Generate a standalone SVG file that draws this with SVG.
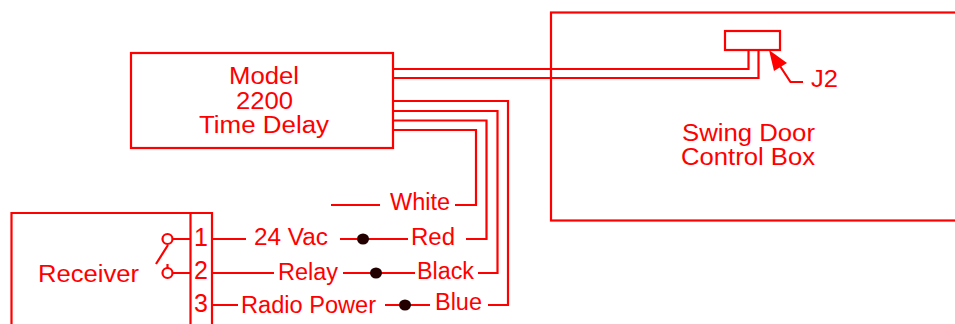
<svg xmlns="http://www.w3.org/2000/svg" width="955" height="324" viewBox="0 0 955 324">
<style>
.l{fill:none;stroke:#f00;stroke-width:2.2}
.t{fill:#f00;font-family:"Liberation Sans",Arial,sans-serif;font-size:23px}
.m{text-anchor:middle}
.d{font-size:25px}
</style>
<rect width="955" height="324" fill="#fff"/>
<g id="connectors">
<path class="l" d="M393 69H748.500V50M393 78H758.500V50"/>
<path class="l" d="M393 130H476V205H455M331 205H380"/>
<path class="l" d="M393 120.500H486.500V239H466M340 239H408M212 239H246"/>
<path class="l" d="M393 111H497.500V273H478M343 273H415M212 273H274"/>
<path class="l" d="M393 101H508V305H488M385 305H430M212 305H238"/>
<path class="l" d="M173 239H190M173 273H190M167.500 264V268M168 245L156 264"/>
<path class="l" d="M803 82H790.500L776 60"/>
<polygon points="769,50 787,63 774,71" fill="#f00"/>
<ellipse cx="363" cy="239" rx="6" ry="5.500" fill="#200"/>
<ellipse cx="376" cy="273" rx="6" ry="5.500" fill="#200"/>
<ellipse cx="405" cy="305" rx="6" ry="5.500" fill="#200"/>
</g>
<g id="time-delay">
<rect class="l" x="131" y="53" width="262" height="95"/>
<text class="t" x="229" y="84" textLength="70" lengthAdjust="spacingAndGlyphs">Model</text>
<text class="t" x="236" y="109" textLength="57" lengthAdjust="spacingAndGlyphs">2200</text>
<text class="t" x="199" y="133" textLength="130" lengthAdjust="spacingAndGlyphs">Time Delay</text>
</g>
<g id="control-box">
<rect class="l" x="551" y="12.500" width="420" height="208"/>
<text class="t" x="682" y="141" textLength="133" lengthAdjust="spacingAndGlyphs">Swing Door</text>
<text class="t" x="681" y="165" textLength="134" lengthAdjust="spacingAndGlyphs">Control Box</text>
</g>
<g id="j2">
<rect class="l" x="725" y="31" width="55" height="19"/>
<text class="t" x="811" y="87" textLength="27" lengthAdjust="spacingAndGlyphs">J2</text>
</g>
<g id="receiver">
<path class="l" d="M11.500 324V213H212V324M190.500 213V324"/>
<circle class="l" cx="167.500" cy="239" r="5"/>
<circle class="l" cx="167.500" cy="273" r="5"/>
<text class="t" x="38" y="282" textLength="101" lengthAdjust="spacingAndGlyphs">Receiver</text>
<text class="t m d" x="201" y="246">1</text>
<text class="t m d" x="201" y="279">2</text>
<text class="t m d" x="201" y="312">3</text>
</g>
<g id="labels">
<text class="t" x="390" y="210" textLength="60" lengthAdjust="spacingAndGlyphs">White</text>
<text class="t" x="254" y="245" textLength="74" lengthAdjust="spacingAndGlyphs">24 Vac</text>
<text class="t" x="411" y="245" textLength="44" lengthAdjust="spacingAndGlyphs">Red</text>
<text class="t" x="278" y="280" textLength="60" lengthAdjust="spacingAndGlyphs">Relay</text>
<text class="t" x="417" y="279" textLength="57" lengthAdjust="spacingAndGlyphs">Black</text>
<text class="t" x="241" y="313" textLength="135" lengthAdjust="spacingAndGlyphs">Radio Power</text>
<text class="t" x="435" y="310" textLength="47" lengthAdjust="spacingAndGlyphs">Blue</text>
</g>
</svg>
